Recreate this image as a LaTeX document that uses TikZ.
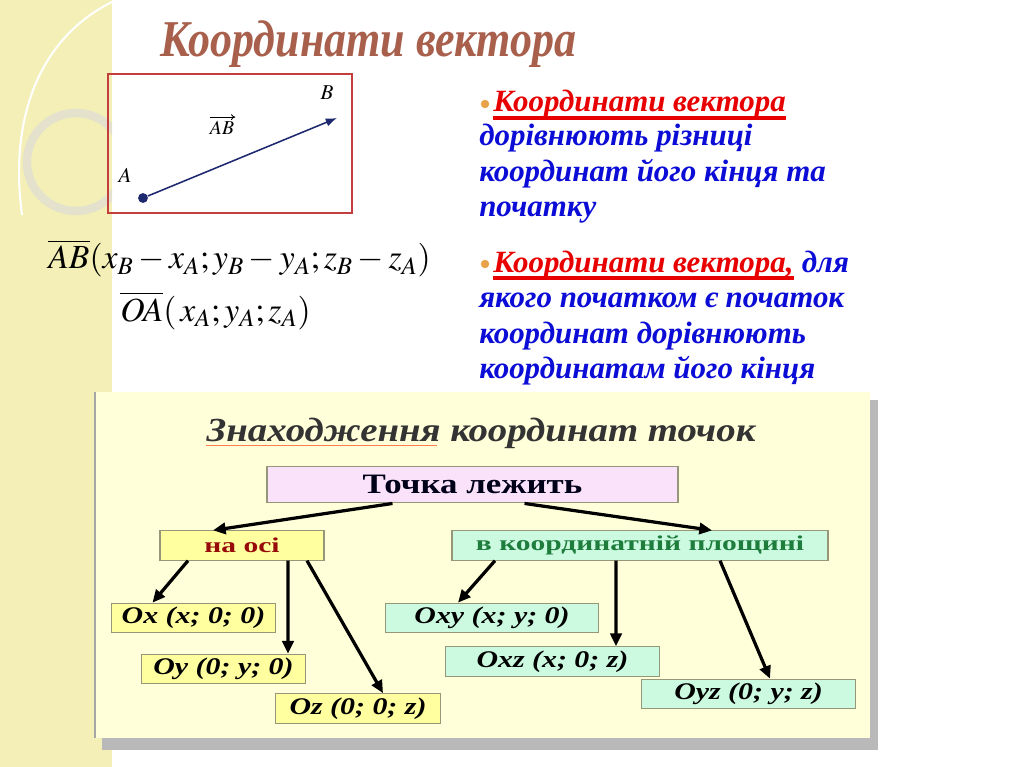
\documentclass[tikz,border=0pt]{standalone}
\usepackage{amsmath}
\usepackage{mathptmx}
\usepackage{graphicx}
\usepackage[no-math]{fontspec}
\setmainfont{Liberation Serif}
\usetikzlibrary{arrows.meta,calc}

\definecolor{strip}{RGB}{243,239,182}
\definecolor{ringgray}{RGB}{228,226,205}
\definecolor{titlebrown}{RGB}{168,96,76}
\definecolor{boxred}{RGB}{196,62,62}
\definecolor{navy}{RGB}{30,40,110}
\definecolor{txtblue}{RGB}{12,12,215}
\definecolor{txtred}{RGB}{232,0,0}
\definecolor{bullet}{RGB}{232,162,72}
\definecolor{panel}{RGB}{255,255,218}
\definecolor{pinkbox}{RGB}{250,226,250}
\definecolor{yelbox}{RGB}{255,255,160}
\definecolor{grnbox}{RGB}{204,250,224}
\definecolor{boxline}{RGB}{150,150,120}
\definecolor{axisred}{RGB}{150,10,10}
\definecolor{planegreen}{RGB}{30,125,60}

\newcommand{\wide}[2]{\scalebox{#1}[1]{#2}}

\begin{document}
\begin{tikzpicture}[x=0.025cm,y=-0.025cm]
    \tikzstyle{every node}+=[inner sep=0pt]
    \tikzstyle{blueline}=[anchor=base west, text=txtblue, font=\fontsize{22}{26}\selectfont\bfseries\itshape]
    \tikzstyle{redline}=[blueline, text=txtred]
    \tikzstyle{dot}=[circle, fill=bullet, minimum size=6pt]
    \tikzstyle{leaf}=[draw=boxline, line width=0.8pt, minimum height=0.74cm, font=\fontsize{17}{20}\selectfont\bfseries\itshape]
    \tikzstyle{axisleaf}=[leaf, fill=yelbox, minimum width=4.12cm]
    \tikzstyle{planeleaf}=[leaf, fill=grnbox, minimum width=5.33cm]
    \tikzstyle{flow}=[line width=2.3pt, -{Triangle[length=9pt,width=8pt]}]
    \useasboundingbox (0,0) rectangle (1024,767);
    % background and left strip
    \fill [white] (0,0) rectangle (1024,767);
    \fill [strip] (0,0) rectangle (112,767);
    \begin{scope}
        \clip (0,0) rectangle (112,767);
        \draw [white, line width=1.5pt] (112,2) .. controls (45,35) and (8,110) .. (22,215);
        \draw [ringgray, line width=6pt] (76,162) circle (49);
    \end{scope}
    % title
    \node [anchor=base west, text=titlebrown, font=\fontsize{34}{40}\selectfont\bfseries\itshape] (title) at (160,57) {\scalebox{0.92}[1.08]{Координати вектора}};
    % vector AB
    \draw [boxred, line width=0.8pt] (108,74) rectangle (352,213);
    \node [circle, fill=navy, minimum size=7pt] (A) at (143,198) {};
    \coordinate (B) at (337,118);
    \draw [navy, line width=1.1pt, -{Latex[length=8pt,width=6pt]}] (A) -- (B);
    \node [font=\fontsize{15}{17}\selectfont] (labA) at (125,175) {$A$};
    \node [font=\fontsize{15}{17}\selectfont] (labB) at (327,93) {$B$};
    \node [font=\fontsize{14}{16}\selectfont] (labAB) at (222,128) {$AB$};
    \draw [line width=0.6pt, -{To[length=3pt,width=4pt]}] ($(labAB.north west)+(0,-4)$) -- ($(labAB.north east)+(1,-4)$);
    % formulas
    \node [anchor=base west, font=\fontsize{24}{28}\selectfont] (fAB) at (48,269) {$\overline{AB}(x_B-x_A;y_B-y_A;z_B-z_A)$};
    \node [anchor=base west, font=\fontsize{24}{28}\selectfont] (fOA) at (120,321) {$\overline{OA}(\,x_A;y_A;z_A)$};
    % right text
    \node [dot] (b1) at (485,104) {};
    \node [redline] (l1) at (493,112) {Координати вектора};
    \draw [txtred, line width=2.2pt] ($(l1.base west)+(0,6)$) -- ($(l1.base east)+(0,6)$);
    \node [blueline] (l2) at (479,146) {дорівнюють різниці};
    \node [blueline] (l3) at (479,182) {координат його кінця та};
    \node [blueline] (l4) at (479,217) {початку};
    \node [dot] (b2) at (485,264) {};
    \node [redline] (l5) at (493,272) {Координати вектора,};
    \draw [txtred, line width=2.2pt] ($(l5.base west)+(0,6)$) -- ($(l5.base east)+(0,6)$);
    \node [blueline] (l5b) at (l5.base east) {\ для};
    \node [blueline] (l6) at (479,307) {якого початком є початок};
    \node [blueline] (l7) at (479,343) {координат дорівнюють};
    \node [blueline] (l8) at (479,378) {координатам його кінця};
    % panel with shadow
    \fill [gray!55] (102,400) rectangle (878,750);
    \fill [panel] (95,392) rectangle (870,738);
    \draw [gray!70, line width=1pt] (95,392) -- (95,738);
    \node [anchor=base, text=black!80, font=\fontsize{24}{28}\selectfont\bfseries\itshape] (head) at (481,441) {\wide{1.15}{Знаходження координат точок}};
    \draw [red!45!orange!70, line width=0.6pt] (206,445) -- (437,445);
    % scheme
    \node [draw=boxline, line width=0.8pt, fill=pinkbox, minimum width=10.27cm, minimum height=0.92cm, font=\fontsize{20}{24}\selectfont\bfseries, text=black!90!blue] (top) at (472.5,484.5) {\wide{1.24}{Точка лежить}};
    \node [draw=boxline, line width=0.8pt, fill=yelbox, minimum width=4.1cm, minimum height=0.73cm, font=\fontsize{15}{18}\selectfont\bfseries, text=axisred] (axis) at (242,545.5) {\wide{1.4}{на осі}};
    \node [draw=boxline, line width=0.8pt, fill=grnbox, minimum width=9.4cm, minimum height=0.73cm, font=\fontsize{15}{18}\selectfont\bfseries, text=planegreen] (plane) at (640,545.5) {\wide{1.4}{в координатній площині}};
    \node [axisleaf] (ox) at (193.5,618) {\wide{1.25}{Ox (x; 0; 0)}};
    \node [axisleaf] (oy) at (223.5,669) {\wide{1.25}{Oy (0; y; 0)}};
    \node [axisleaf] (oz) at (358,708.5) {\wide{1.25}{Oz (0; 0; z)}};
    \node [planeleaf] (oxy) at (492,618) {\wide{1.25}{Oxy (x; y; 0)}};
    \node [planeleaf] (oxz) at (552.5,661.5) {\wide{1.25}{Oxz (x; 0; z)}};
    \node [planeleaf] (oyz) at (748.5,694) {\wide{1.25}{Oyz (0; y; z)}};
    \draw [flow] ($(top.south)+(-80,0)$) -- ($(axis.north)+(-29,0)$);
    \draw [flow] ($(top.south)+(52,0)$) -- ($(plane.north)+(72,0)$);
    \draw [flow] ($(axis.south)+(-54,0)$) -- ($(ox.north)+(-41,0)$);
    \draw [flow] ($(axis.south)+(46,0)$) -- ($(oy.north)+(64.5,0)$);
    \draw [flow] ($(axis.south)+(65,0)$) -- ($(oz.north)+(25,0)$);
    \draw [flow] ($(plane.south)+(-145,0)$) -- ($(oxy.north)+(-34,0)$);
    \draw [flow] ($(plane.south)+(-24,0)$) -- ($(oxz.north)+(63.5,0)$);
    \draw [flow] ($(plane.south)+(80,0)$) -- ($(oyz.north)+(21.5,0)$);
\end{tikzpicture}
\end{document}
